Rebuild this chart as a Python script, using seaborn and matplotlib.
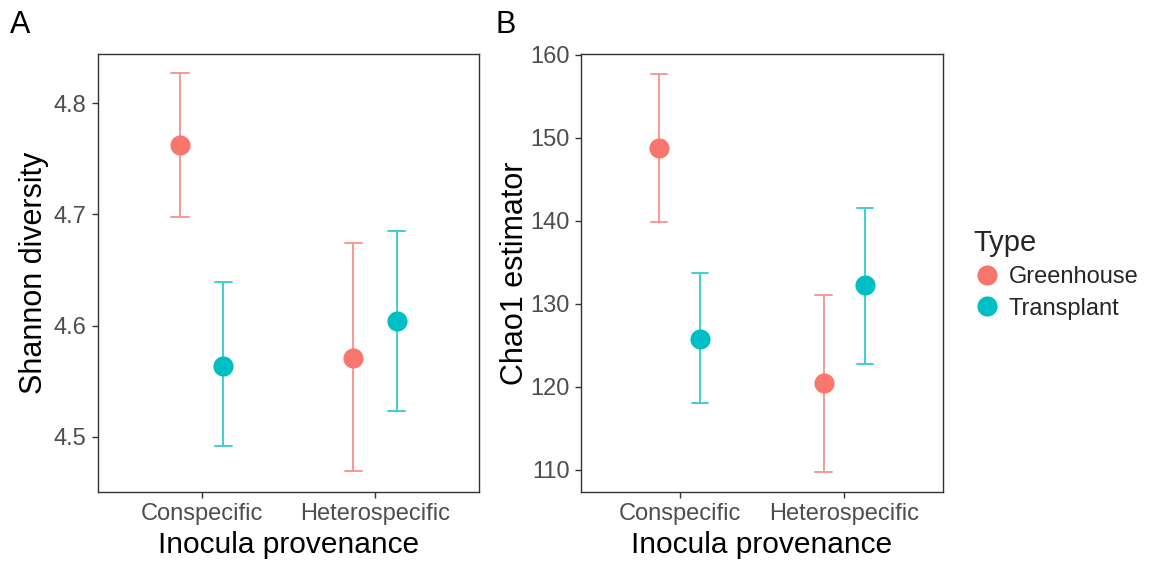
import numpy as np
import pandas as pd
import matplotlib
matplotlib.use("Agg")
import matplotlib.pyplot as plt
import seaborn as sns

# Group means with lower / upper error limits
provenance = ["Conspecific", "Heterospecific"]
types = ["Greenhouse", "Transplant"]

shannon_mean = {"Greenhouse": [4.762, 4.571], "Transplant": [4.564, 4.604]}
shannon_low = {"Greenhouse": [4.698, 4.469], "Transplant": [4.492, 4.523]}
shannon_high = {"Greenhouse": [4.827, 4.674], "Transplant": [4.639, 4.685]}

chao_mean = {"Greenhouse": [148.7, 120.4], "Transplant": [125.7, 132.2]}
chao_low = {"Greenhouse": [139.8, 109.7], "Transplant": [118.0, 122.8]}
chao_high = {"Greenhouse": [157.7, 131.1], "Transplant": [133.7, 141.5]}

palette = {"Greenhouse": "#F8766D", "Transplant": "#00BFC4"}


def long_table(mean, low, high):
    # three rows per group: median gives the mean, the 0-100 interval gives the limits
    rows = []
    for t in types:
        for i, p in enumerate(provenance):
            for v in (low[t][i], mean[t][i], high[t][i]):
                rows.append({"Provenance": p, "Type": t, "value": v})
    return pd.DataFrame(rows)


sns.set_style("white")
plt.rcParams["font.family"] = ["Liberation Sans", "DejaVu Sans"]

fig = plt.figure(figsize=(11.54, 5.66), dpi=100)
axA = fig.add_axes([0.0845, 0.131, 0.3305, 0.774])
axB = fig.add_axes([0.5032, 0.131, 0.3140, 0.774])

panels = [
    (axA, long_table(shannon_mean, shannon_low, shannon_high), "Shannon diversity",
     (4.4504, 4.8444), [4.5, 4.6, 4.7, 4.8], "A", 0.009, 3),
    (axB, long_table(chao_mean, chao_low, chao_high), "Chao1 estimator",
     (107.35, 160.09), [110, 120, 130, 140, 150, 160], "B", 0.429, 0),
]

for ax, df, ylab, ylim, yticks, tag, tagx, ypad in panels:
    sns.pointplot(
        data=df, x="Provenance", y="value", hue="Type",
        order=provenance, hue_order=types, palette=palette,
        estimator="median", errorbar=("pi", 100),
        dodge=0.25, linestyle="none", capsize=0.1,
        markers="o", markersize=14.5, markeredgewidth=0,
        err_kws={"linewidth": 1.4, "alpha": 0.75, "zorder": 1},
        ax=ax,
    )
    ax.set_xlim(-0.6, 1.6)
    ax.set_ylim(*ylim)
    ax.set_yticks(yticks)
    if isinstance(yticks[0], float):
        ax.set_yticklabels([f"{v:.1f}" for v in yticks])
    ax.set_xlabel("Inocula provenance", fontsize=21.5, color="black", labelpad=4)
    ax.set_ylabel(ylab, fontsize=22, color="black", labelpad=ypad)
    ax.tick_params(axis="both", which="major", direction="out", length=4, width=1,
                   color="#333333", labelsize=17, labelcolor="#4D4D4D", pad=4,
                   bottom=True, left=True)
    for s in ax.spines.values():
        s.set_visible(True)
        s.set_color("#333333")
        s.set_linewidth(1.0)
    ax.grid(False)
    ax.get_legend().remove()
    fig.text(tagx, 0.982, tag, fontsize=22, ha="left", va="top", color="black")

handles, labels = axB.get_legend_handles_labels()
leg = fig.legend(
    handles, labels, title="Type", loc="upper left",
    bbox_to_anchor=(0.829, 0.625), frameon=False,
    fontsize=17, title_fontsize=21, alignment="left",
    handletextpad=0.3, labelspacing=0.4, borderpad=0.2, handlelength=1.2,
)

fig.savefig("out.png", dpi=100, facecolor="white")
